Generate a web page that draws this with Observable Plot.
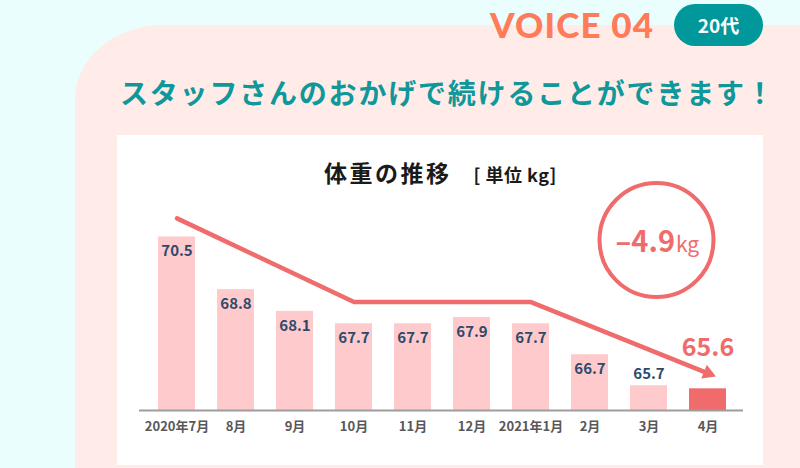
<!DOCTYPE html>
<html>
<head>
<meta charset="utf-8">
<script src="https://cdn.jsdelivr.net/npm/d3@7"></script>
<script src="https://cdn.jsdelivr.net/npm/@observablehq/plot@0.6"></script>
<style>
  html, body { margin: 0; padding: 0; }
  body { width: 800px; height: 468px; overflow: hidden; position: relative; background: #ebfefe; font-family: "Noto Sans CJK JP", "Noto Sans", sans-serif; }
  #panel { position: absolute; left: 75px; top: 25px; width: 800px; height: 520px; background: #ffece9; border-top-left-radius: 88px 74px; }
  #voice { position: absolute; left: 490px; top: 4px; font-family: Lato, sans-serif; font-weight: 900; font-size: 35px; line-height: 40px; letter-spacing: 1.2px; color: #ff7b5a; white-space: nowrap; }
  #badge { position: absolute; left: 674px; top: 4px; width: 89px; height: 42px; border-radius: 21px; background: #00989a; color: #fff; font-weight: 700; font-size: 19px; line-height: 42px; text-align: center; }
  #subtitle { position: absolute; left: 120px; top: 76px; font-size: 28px; line-height: 32px; letter-spacing: 1.8px; font-weight: 700; color: #10979a; white-space: nowrap; }
  #box { position: absolute; left: 117px; top: 135px; width: 646px; height: 330px; background: #fff; }
  #title { position: absolute; left: 207px; top: 20px; white-space: nowrap; color: #1a1a1a; font-weight: 700; }
  #title .main { font-size: 23px; letter-spacing: 2.5px; }
  #title .unit { font-size: 18px; letter-spacing: 0.5px; margin-left: 22px; }
  #chart { position: absolute; left: 0; top: 0; }
</style>
</head>
<body>
<div id="panel"></div>
<div id="voice">VOICE 04</div>
<div id="badge">20代</div>
<div id="subtitle">スタッフさんのおかげで続けることができます！</div>
<div id="box">
  <div id="chart"></div>
  <div id="title"><span class="main">体重の推移</span><span class="unit">[ 単位 kg]</span></div>
</div>
<script>
// ---- data ----
const months = ["2020年7月", "8月", "9月", "10月", "11月", "12月", "2021年1月", "2月", "3月", "4月"];
const weights = [70.5, 68.8, 68.1, 67.7, 67.7, 67.9, 67.7, 66.7, 65.7, 65.6];
const trendMonths = ["2020年7月", "10月", "2021年1月", "4月"];
const trendWeights = [71.1, 68.4, 68.4, 66.1];
const yDomain = [64.9, 73.0];
const changeAnchorMonth = "3月";
const changeAnchorWeight = 70.4;

// ---- styles ----
const pink = "#ffcacc";
const red = "#f06b6b";
const navy = "#2d4a6c";

const data = months.map((m, i) => ({month: m, weight: weights[i], latest: i === months.length - 1}));
const trend = trendMonths.map((m, i) => ({month: m, weight: trendWeights[i]}));
const change = (weights[weights.length - 1] - weights[0]).toFixed(1).replace("-", "–");
const anchor = [{month: changeAnchorMonth, weight: changeAnchorWeight}];

const inside = data.filter(d => !d.latest && d.weight - yDomain[0] > 1);
const above = data.filter(d => !d.latest && d.weight - yDomain[0] <= 1);
const latest = data.filter(d => d.latest);

const chart = Plot.plot({
  width: 646,
  height: 330,
  marginLeft: 19,
  marginRight: 15,
  marginTop: 24,
  marginBottom: 55,
  style: {background: "transparent", fontFamily: "'Noto Sans CJK JP', sans-serif", fontSize: "13px", fontWeight: "bold", color: "#595757", overflow: "visible"},
  x: {domain: months, padding: 0.37, label: null},
  y: {domain: yDomain, axis: null},
  marks: [
    Plot.barY(data, {x: "month", y1: () => yDomain[0], y2: "weight", fill: d => d.latest ? red : pink}),
    Plot.ruleY([yDomain[0]], {stroke: "#9d9d9d", strokeWidth: 2, insetLeft: 3, insetRight: 5}),
    Plot.axisX({tickSize: 0, tickPadding: 11, fill: "#595757", fontWeight: "bold", label: null}),
    Plot.text(inside, {x: "month", y: "weight", text: d => d.weight.toFixed(1), dy: 14.5, fill: navy, fontSize: 15, fontWeight: "bold"}),
    Plot.text(above, {x: "month", y: "weight", text: d => d.weight.toFixed(1), dy: -12, fill: navy, fontSize: 15, fontWeight: "bold"}),
    Plot.text(latest, {x: "month", y: "weight", text: d => d.weight.toFixed(1), dy: -41, fill: red, fontSize: 25, fontWeight: "bold"}),
    Plot.line(trend, {x: "month", y: "weight", stroke: red, strokeWidth: 4.5}),
    Plot.dot(trend.slice(-1), {x: "month", y: "weight", symbol: "triangle", r: 5.5, fill: red, stroke: "none", rotate: 112}),
    Plot.dot(anchor, {x: "month", y: "weight", r: 57, dx: 7.5, stroke: red, strokeWidth: 4, fill: "none"}),
    Plot.text(anchor, {x: "month", y: "weight", text: () => change, dx: 26, dy: 2.5, textAnchor: "end", fill: red, fontSize: 29, fontWeight: "bold"}),
    Plot.text(anchor, {x: "month", y: "weight", text: () => "kg", dx: 27, dy: 5, textAnchor: "start", fill: red, fontSize: 21, fontWeight: "normal"})
  ]
});
document.getElementById("chart").appendChild(chart);
</script>
</body>
</html>
